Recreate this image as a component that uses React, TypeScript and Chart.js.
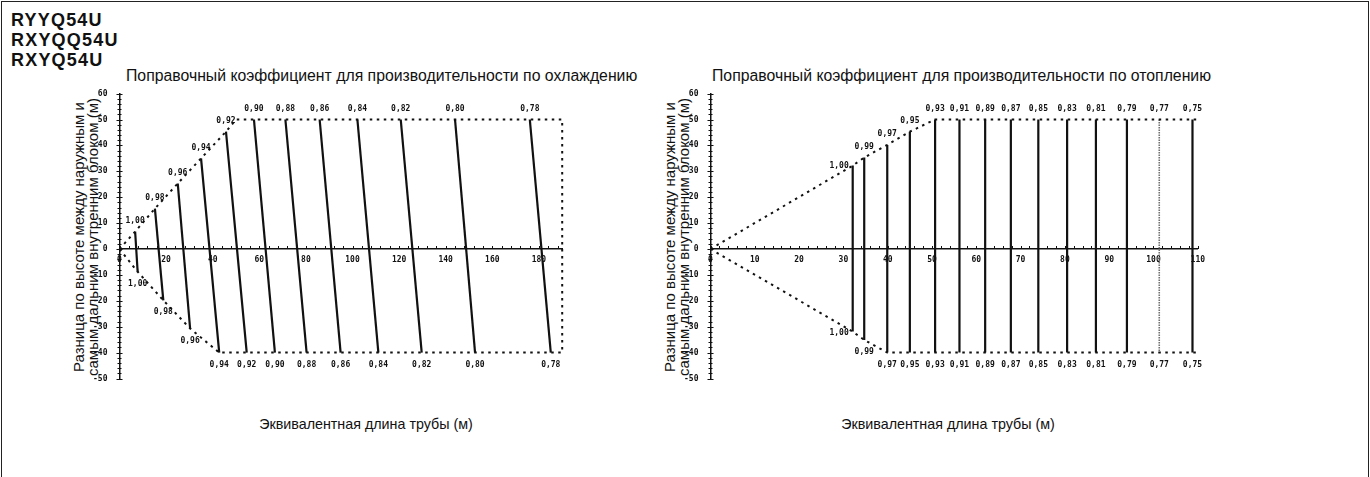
import React, { useEffect, useRef } from 'react';
import { Chart, registerables } from 'chart.js';

Chart.register(...registerables);

// ---------- DATA ----------
const modelNames = ['RYYQ54U', 'RXYQQ54U', 'RXYQ54U'];
const coolTitle = 'Поправочный коэффициент для производительности по охлаждению';
const heatTitle = 'Поправочный коэффициент для производительности по отоплению';
const yAxisTitleLines = ['Разница по высоте между наружным и', 'самым дальним внутренним блоком (м)'];
const xAxisTitle = 'Эквивалентная длина трубы (м)';

const yMin = -50;
const yMax = 60;
const yStep = 10;

// Cooling
const coolXMax = 190;
const coolXStep = 20;
const coolCoefLabels = ['1,00', '0,98', '0,96', '0,94', '0,92', '0,90', '0,88', '0,86', '0,84', '0,82', '0,80', '0,78'];
const coolTopX = [6.7, 15.2, 25.0, 35.0, 45.7, 57.7, 71.2, 85.9, 102.1, 120.7, 144.0, 176.1];
const coolTopY = [6.7, 15.6, 25.3, 35.0, 45.3, 50, 50, 50, 50, 50, 50, 50];
const coolBottomX = [7.8, 18.8, 30.3, 42.8, 54.6, 66.7, 80.3, 94.9, 111.1, 129.7, 152.6, 185.1];
const coolBottomY = [-8.8, -19.8, -30.7, -40, -40, -40, -40, -40, -40, -40, -40, -40];
const coolFrameX = [0, 6.7, 15.2, 25.0, 35.0, 45.7, 50, 190, 190, 42.8, 30.3, 18.8, 7.8, 0];
const coolFrameY = [0, 6.7, 15.6, 25.3, 35.0, 45.3, 50, 50, -40, -40, -30.7, -19.8, -8.8, 0];

// Heating
const heatXMax = 110;
const heatXStep = 10;
const heatCoefLabels = ['1,00', '0,99', '0,97', '0,95', '0,93', '0,91', '0,89', '0,87', '0,85', '0,83', '0,81', '0,79', '0,77', '0,75'];
const heatLineX = [32.1, 34.7, 39.9, 45.0, 50.7, 56.2, 62.0, 67.8, 74.0, 80.5, 87.0, 94.0, 101.3, 108.8];
const heatTopY = [32.2, 35.3, 40.2, 45.3, 50, 50, 50, 50, 50, 50, 50, 50, 50, 50];
const heatBottomY = [-31.9, -35.1, -40, -40, -40, -40, -40, -40, -40, -40, -40, -40, -40, -40];
const heatUpperX = [0, 32.1, 34.7, 39.9, 45.0, 50.7, 110];
const heatUpperY = [0, 32.2, 35.3, 40.2, 45.3, 50, 50];
const heatLowerX = [0, 32.1, 34.7, 39.9, 110];
const heatLowerY = [0, -31.9, -35.1, -40, -40];

// ---------- STYLE ----------
const INK = '#111';
const TICK_FONT = { family: "'DejaVu Sans Mono', 'Liberation Mono', monospace", size: 8, weight: 'bold' as const };
const TEXT_FONT = "'Liberation Sans', Arial, sans-serif";
const DASH = [2.5, 4.5];
const faintHeatIndex = 12; // the 0,77 line is drawn faint in the reference

type PanelCfg = {
  xMax: number;
  xStep: number;
  xMinor: number;
  labels: string[];
  topX: number[];
  topY: number[];
  botX: number[];
  botY: number[];
  sideLabelIndex: number;
  faintIndex: number;
  frames: { xs: number[]; ys: number[] }[];
  padding: { left: number; right: number; top: number; bottom: number };
};

function makeAnnotator(cfg: PanelCfg) {
  return {
    id: 'annotate',
    afterDatasetsDraw(chart: any) {
      const { ctx, scales } = chart;
      const x = scales.x;
      const y = scales.y;
      ctx.save();
      ctx.strokeStyle = INK;
      ctx.lineWidth = 1;
      const y0 = y.getPixelForValue(0);
      ctx.beginPath();
      for (let v = 0; v <= cfg.xMax + 1e-6; v += cfg.xMinor) {
        const px = Math.round(x.getPixelForValue(v)) + 0.5;
        ctx.moveTo(px, y0 - 3);
        ctx.lineTo(px, y0);
      }
      const x0 = x.getPixelForValue(0);
      for (let v = yMin; v <= yMax; v += 2) {
        const py = Math.round(y.getPixelForValue(v)) + 0.5;
        const len = v % 10 === 0 ? 3 : 2;
        ctx.moveTo(x0 - len, py);
        ctx.lineTo(x0 + len, py);
      }
      ctx.stroke();

      ctx.fillStyle = INK;
      ctx.font = `${TICK_FONT.weight} ${TICK_FONT.size}px ${TICK_FONT.family}`;
      ctx.textBaseline = 'middle';
      cfg.labels.forEach((t, i) => {
        const tx = x.getPixelForValue(cfg.topX[i]);
        const ty = y.getPixelForValue(cfg.topY[i]);
        const bx = x.getPixelForValue(cfg.botX[i]);
        const by = y.getPixelForValue(cfg.botY[i]);
        if (i === cfg.sideLabelIndex) {
          ctx.textAlign = 'right';
          ctx.fillText(t, tx - 4, ty);
          ctx.fillText(t, bx - 4, by + 1.5);
        } else {
          ctx.textAlign = 'center';
          ctx.fillText(t, tx, ty - 10.5);
          ctx.fillText(t, bx, by + 12);
        }
      });
      ctx.restore();
    },
  };
}

function buildConfig(cfg: PanelCfg): any {
  const datasets: any[] = [];
  cfg.frames.forEach((f) => {
    datasets.push({
      data: f.xs.map((v, i) => ({ x: v, y: f.ys[i] })),
      showLine: true,
      borderColor: INK,
      borderWidth: 2,
      borderDash: DASH,
      pointRadius: 0,
      fill: false,
      clip: false,
    });
  });
  cfg.labels.forEach((_, i) => {
    const faint = i === cfg.faintIndex;
    datasets.push({
      data: [
        { x: cfg.topX[i], y: cfg.topY[i] },
        { x: cfg.botX[i], y: cfg.botY[i] },
      ],
      showLine: true,
      borderColor: faint ? '#707070' : INK,
      borderWidth: faint ? 1.6 : 2.2,
      borderDash: faint ? [1.5, 1] : [],
      pointRadius: 0,
      fill: false,
      clip: false,
    });
  });

  return {
    type: 'scatter',
    data: { datasets },
    options: {
      animation: false,
      responsive: false,
      maintainAspectRatio: false,
      events: [],
      layout: { padding: cfg.padding },
      plugins: { legend: { display: false }, tooltip: { enabled: false }, title: { display: false } },
      scales: {
        x: {
          type: 'linear',
          min: 0,
          max: cfg.xMax,
          position: { y: 0 },
          grid: { display: true, drawOnChartArea: false, drawTicks: false },
          border: { display: true, color: INK, width: 1.5 },
          ticks: {
            stepSize: cfg.xStep,
            includeBounds: false,
            autoSkip: false,
            maxRotation: 0,
            padding: 6,
            color: INK,
            font: TICK_FONT,
            callback: (v: number) => String(v),
          },
        },
        y: {
          type: 'linear',
          min: yMin,
          max: yMax,
          position: 'left',
          afterFit: (s: any) => {
            s.width = 30;
          },
          grid: { display: true, drawOnChartArea: false, drawTicks: false },
          border: { display: true, color: INK, width: 1.5 },
          ticks: {
            stepSize: yStep,
            autoSkip: false,
            padding: 12,
            color: INK,
            font: TICK_FONT,
            callback: (v: number) => String(v),
          },
        },
      },
    },
    plugins: [makeAnnotator(cfg)],
  };
}

const coolCfg: PanelCfg = {
  xMax: coolXMax,
  xStep: coolXStep,
  xMinor: 4,
  labels: coolCoefLabels,
  topX: coolTopX,
  topY: coolTopY,
  botX: coolBottomX,
  botY: coolBottomY,
  sideLabelIndex: -1,
  faintIndex: -1,
  frames: [{ xs: coolFrameX, ys: coolFrameY }],
  padding: { left: 29.5, right: 37.8, top: 33.6, bottom: 21.5 },
};

const heatCfg: PanelCfg = {
  xMax: heatXMax,
  xStep: heatXStep,
  xMinor: 2,
  labels: heatCoefLabels,
  topX: heatLineX,
  topY: heatTopY,
  botX: heatLineX,
  botY: heatBottomY,
  sideLabelIndex: 0,
  faintIndex: faintHeatIndex,
  frames: [
    { xs: heatUpperX, ys: heatUpperY },
    { xs: heatLowerX, ys: heatLowerY },
  ],
  padding: { left: 30.5, right: 32.2, top: 33.6, bottom: 21.5 },
};

function Panel({ cfg, left, top, width, height }: { cfg: PanelCfg; left: number; top: number; width: number; height: number }) {
  const ref = useRef<HTMLCanvasElement | null>(null);
  useEffect(() => {
    if (!ref.current) return;
    const chart = new Chart(ref.current, buildConfig(cfg));
    return () => chart.destroy();
  }, [cfg]);
  return (
    <canvas
      ref={ref}
      width={width}
      height={height}
      style={{ position: 'absolute', left, top, width, height, display: 'block' }}
    />
  );
}

const textBase: React.CSSProperties = {
  position: 'absolute',
  whiteSpace: 'nowrap',
  fontFamily: TEXT_FONT,
  color: INK,
  lineHeight: 1,
};

function YTitle({ cx, cy }: { cx: number; cy: number }) {
  return (
    <div
      style={{
        ...textBase,
        left: cx,
        top: cy,
        fontSize: 15,
        lineHeight: '13.5px',
        textAlign: 'center',
        transform: 'translate(-50%, -50%) rotate(-90deg)',
      }}
    >
      {yAxisTitleLines[0]}
      <br />
      {yAxisTitleLines[1]}
    </div>
  );
}

export default function App() {
  return (
    <div
      style={{
        position: 'fixed',
        left: 0,
        top: 0,
        width: 1370,
        height: 477,
        background: '#fff',
        overflow: 'hidden',
      }}
    >
      <div
        style={{
          position: 'absolute',
          left: 1,
          top: 1,
          width: 1366,
          height: 520,
          borderLeft: '1.5px solid #222',
          borderTop: '1.5px solid #222',
          borderRight: '1.5px solid #222',
        }}
      />
      {modelNames.map((m, i) => (
        <div
          key={m}
          style={{ ...textBase, left: 11, top: 10.5 + i * 20, fontSize: 18, fontWeight: 'bold', letterSpacing: 1.2 }}
        >
          {m}
        </div>
      ))}
      <div style={{ ...textBase, left: 126, top: 68, fontSize: 15.8 }}>{coolTitle}</div>
      <div style={{ ...textBase, left: 712, top: 68, fontSize: 15.8 }}>{heatTitle}</div>

      <YTitle cx={85} cy={237} />
      <YTitle cx={676} cy={237} />

      <div style={{ ...textBase, left: 366, top: 424, fontSize: 14.3, transform: 'translate(-50%, -50%)' }}>{xAxisTitle}</div>
      <div style={{ ...textBase, left: 948, top: 424, fontSize: 14.3, transform: 'translate(-50%, -50%)' }}>{xAxisTitle}</div>

      <Panel cfg={coolCfg} left={60} top={60} width={540} height={340} />
      <Panel cfg={heatCfg} left={650} top={60} width={580} height={340} />
    </div>
  );
}
